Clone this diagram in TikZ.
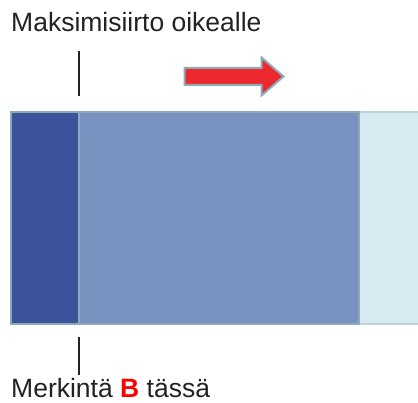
\documentclass[tikz,border=0pt]{standalone}
\usepackage{fontspec}
\setmainfont{Liberation Sans}
\definecolor{darkblue}{RGB}{59,83,155}
\definecolor{midblue}{RGB}{122,146,192}
\definecolor{paleblue}{RGB}{216,234,241}
\definecolor{edgeblue}{RGB}{140,170,183}
\definecolor{paleedge}{RGB}{192,212,220}
\definecolor{arrowred}{RGB}{237,41,47}
\definecolor{inkgray}{RGB}{34,34,34}
\begin{document}
\begin{tikzpicture}[
  x=1pt, y=-1pt,
  bar/.style={draw=edgeblue, line width=2.2pt, minimum height=212pt, inner sep=0pt, anchor=north west},
  txt/.style={inner sep=0pt, anchor=base west, text=inkgray, font=\fontsize{26.5}{30}\selectfont},
  tickline/.style={line width=2.5pt, inkgray}
]
  \useasboundingbox (0,0) rectangle (418,403);

  % bars: full range, shifted part, marked part
  \node[bar, draw=paleedge, fill=paleblue, minimum width=62pt] (range) at (358,111) {};
  \node[bar, fill=midblue, minimum width=280pt] (shift) at (78,111) {};
  \node[bar, fill=darkblue, minimum width=68pt] (marked) at (10,111) {};

  % texts and their ticks
  \node[txt] (top) at (11,31.5) {Maksimisiirto oikealle};
  \node[txt] (bottom) at (11,398) {Merkintä \textbf{\color{red}B} tässä};
  \coordinate (t1) at (79,51);
  \coordinate (t2) at (79,96);
  \coordinate (b1) at (79,337);
  \coordinate (b2) at (79,375);
  \draw[tickline] (t1) -- (t2);
  \draw[tickline] (b1) -- (b2);

  % direction arrow
  \draw[draw=edgeblue, fill=arrowred, line width=2pt]
    (184.5,68) -- (261.5,68) -- (261.5,57.5) -- (283.5,76.5)
    -- (261.5,95.5) -- (261.5,85) -- (184.5,85) -- cycle;
\end{tikzpicture}
\end{document}
